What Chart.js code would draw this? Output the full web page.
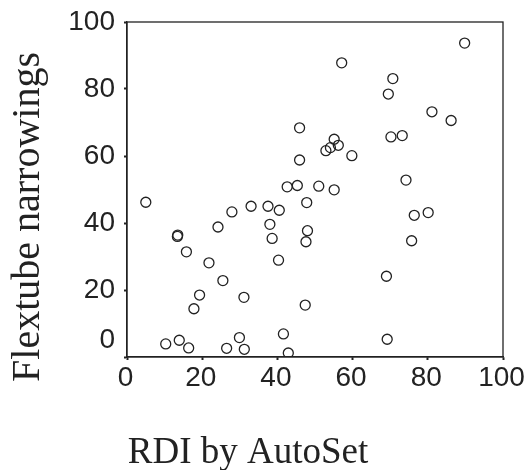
<!DOCTYPE html>
<html>
<head>
<meta charset="utf-8">
<script src="https://cdn.jsdelivr.net/npm/chart.js@4"></script>
<style>
  html, body { margin: 0; padding: 0; background: #fff; }
  #wrap { width: 524px; height: 470px; position: relative; }
</style>
</head>
<body>
<div id="wrap"><canvas id="c"></canvas></div>
<script>
// RDI by AutoSet (x) vs Flextube narrowings (y)
const rdiAutoSet = [5.0, 10.3, 13.9, 16.4, 13.4, 13.5, 15.8, 17.8, 19.3, 21.8,
  24.2, 25.5, 26.5, 27.9, 29.9, 31.1, 31.2, 33.0, 37.5, 40.5,
  38.0, 38.6, 40.3, 41.6, 42.9, 42.6, 45.3, 47.8, 48.0, 47.6,
  47.4, 51.0, 45.9, 45.9, 89.8, 57.1, 70.7, 69.5, 81.1, 86.2,
  70.2, 73.2, 55.1, 56.2, 54.1, 52.9, 59.8, 74.2, 55.1, 76.4,
  80.1, 75.7, 69.0, 69.2];
const flextubeNarrowings = [46.2, 3.9, 5.0, 2.7, 36.0, 36.4, 31.4, 14.4, 18.5, 28.1,
  38.8, 22.8, 2.6, 43.3, 5.8, 17.8, 2.3, 45.0, 45.0, 43.8,
  39.6, 35.4, 28.9, 6.9, 1.2, 50.8, 51.2, 46.1, 37.7, 34.4,
  15.5, 51.0, 68.4, 58.8, 93.7, 87.8, 83.1, 78.5, 73.2, 70.6,
  65.7, 66.1, 65.0, 63.2, 62.5, 61.6, 60.1, 52.8, 49.9, 42.3,
  43.1, 34.7, 24.1, 5.3];
const xTicks = [0, 20, 40, 60, 80, 100];
const yTicks = [0, 20, 40, 60, 80, 100];
const xTitle = 'RDI by AutoSet';
const yTitle = 'Flextube narrowings';

const points = rdiAutoSet.map((x, i) => ({ x: x, y: flextubeNarrowings[i] }));
const INK = '#222';

const framePlugin = {
  id: 'frameAndTitles',
  beforeDatasetsDraw(chart) {
    const a = chart.chartArea, ctx = chart.ctx;
    ctx.save();
    ctx.strokeStyle = INK;
    ctx.lineWidth = 1.3;
    ctx.strokeRect(a.left, a.top, a.right - a.left, a.bottom - a.top);
    ctx.restore();
  },
  afterDraw(chart) {
    const ctx = chart.ctx, ys = chart.scales.y;
    ctx.save();
    ctx.fillStyle = INK;
    // zero label of the y axis, lifted above the corner as in the reference
    ctx.font = '28px "Liberation Sans", Arial, sans-serif';
    ctx.textAlign = 'right';
    ctx.textBaseline = 'middle';
    ctx.fillText(String(yTicks[0]), chart.chartArea.left - 12, ys.getPixelForValue(yTicks[0]) - 17);
    // axis titles
    ctx.font = '37px "Liberation Serif", "Times New Roman", serif';
    ctx.textAlign = 'center';
    ctx.textBaseline = 'alphabetic';
    ctx.fillText(xTitle, 248, 463);
    ctx.translate(39, 217);
    ctx.rotate(-Math.PI / 2);
    ctx.font = '40px "Liberation Serif", "Times New Roman", serif';
    ctx.fillText(yTitle, 0, 0);
    ctx.restore();
  }
};

new Chart(document.getElementById('c'), {
  type: 'scatter',
  data: {
    datasets: [{
      data: points,
      pointRadius: 5,
      pointHoverRadius: 5,
      pointBorderWidth: 1.3,
      pointBorderColor: INK,
      pointBackgroundColor: 'rgba(0,0,0,0)'
    }]
  },
  options: {
    responsive: true,
    maintainAspectRatio: false,
    animation: false,
    layout: { padding: { top: 22, right: 21, left: 0, bottom: 0 } },
    plugins: { legend: { display: false }, tooltip: { enabled: false } },
    scales: {
      x: {
        type: 'linear',
        min: 0, max: 100,
        afterBuildTicks(s) { s.ticks = xTicks.map(v => ({ value: v })); },
        afterFit(s) { s.height = 113; s.paddingLeft = 0; s.paddingRight = 0; },
        grid: { display: true, drawOnChartArea: false, drawTicks: true, tickLength: 3, tickColor: INK, tickWidth: 2 },
        border: { display: true, color: INK, width: 1.3 },
        ticks: { color: INK, padding: 1, labelOffset: -1.5, maxRotation: 0, font: { family: '"Liberation Sans", Arial, sans-serif', size: 28 } },
        title: { display: false }
      },
      y: {
        type: 'linear',
        min: 0, max: 100,
        afterBuildTicks(s) { s.ticks = yTicks.map(v => ({ value: v })); },
        afterFit(s) { s.width = 127; s.paddingTop = 0; s.paddingBottom = 0; },
        grid: { display: true, drawOnChartArea: false, drawTicks: true, tickLength: 3, tickColor: INK, tickWidth: 2 },
        border: { display: true, color: INK, width: 1.3 },
        ticks: {
          color: INK, padding: 9,
          font: { family: '"Liberation Sans", Arial, sans-serif', size: 28 },
          callback: (v) => (v === yTicks[0] ? '' : String(v))
        },
        title: { display: false }
      }
    }
  },
  plugins: [framePlugin]
});
</script>
</body>
</html>
